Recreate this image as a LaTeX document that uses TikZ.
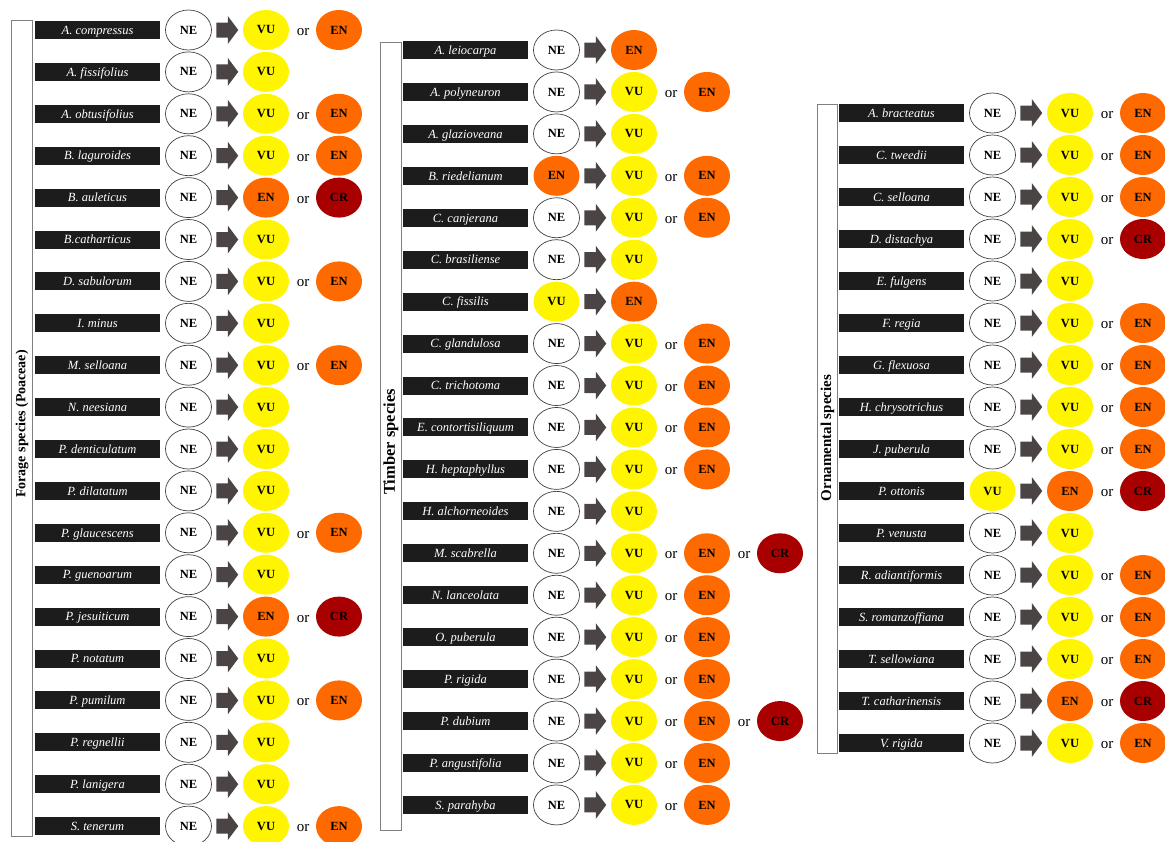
\documentclass[tikz,border=0pt]{standalone}
\usepackage{fontspec}
\setmainfont{Liberation Serif}
\usetikzlibrary{shapes.geometric,calc}
\definecolor{labbg}{HTML}{1C1C1C}
\definecolor{vucol}{HTML}{FFF500}
\definecolor{encol}{HTML}{FF6A00}
\definecolor{crcol}{HTML}{A80000}
\definecolor{arrcol}{HTML}{4A4444}
\definecolor{boxcol}{HTML}{808080}
\def\tsNE{NE}\def\tsVU{VU}\def\tsEN{EN}\def\tsCR{CR}
\tikzset{
  lab/.style={fill=labbg,text=white,font=\itshape\fontsize{12.5}{12.5}\selectfont,
    minimum width=125pt,minimum height=18pt,inner sep=0pt,
    text height=8.5pt,text depth=0pt},
  stat/.style={ellipse,minimum width=46pt,minimum height=40pt,inner sep=0pt,
    font=\bfseries\fontsize{12.5}{12.5}\selectfont},
  sNE/.style={stat,draw=black!75,line width=0.7pt,fill=white},
  sVU/.style={stat,fill=vucol},
  sEN/.style={stat,fill=encol},
  sCR/.style={stat,fill=crcol},
  ortxt/.style={font=\fontsize{15}{15}\selectfont,inner sep=0pt,
    text height=7pt,text depth=0pt,yshift=-2pt},
  grpbox/.style={draw=boxcol,line width=0.9pt,fill=white,inner sep=0pt},
  grptxt/.style={rotate=90,font=\bfseries\selectfont,inner sep=0pt},
  barrow/.pic={\fill[arrcol] (-11,-7.5) -- (0.5,-7.5) -- (0.5,-14) -- (11,0)
     -- (0.5,14) -- (0.5,7.5) -- (-11,7.5) -- cycle;}
}
\newcommand\sprow[8]{%
  \node[lab] (#3-lab) at ({#1+62.5},{#2}) {#4};
  \node[#5] (#3-s0) at ({#1+153.5},{#2}) {\csname t#5\endcsname};
  \node[#6] (#3-s1) at ({#1+231},{#2}) {\csname t#6\endcsname};
  \pic at ($(#3-s0)!0.5!(#3-s1)$) {barrow};
  \if\relax\detokenize{#7}\relax\else
    \node[ortxt] (#3-or1) at ({#1+268},{#2}) {or};
    \node[#7] (#3-s2) at ({#1+304},{#2}) {\csname t#7\endcsname};
  \fi
  \if\relax\detokenize{#8}\relax\else
    \node[ortxt] (#3-or2) at ({#1+341},{#2}) {or};
    \node[#8] (#3-s3) at ({#1+377},{#2}) {\csname t#8\endcsname};
  \fi
}
\begin{document}
\begin{tikzpicture}[x=1pt,y=-1pt]
\useasboundingbox (0,0) rectangle (1165,841);
% group boxes
\node[grpbox,minimum width=21pt,minimum height=816pt] (g1) at (21.5,428) {};
\node[grptxt,font=\bfseries\fontsize{14}{14}\selectfont] (g1t) at (22,424) {Forage species (Poaceae)};
\node[grpbox,minimum width=21pt,minimum height=788pt] (g2) at (390.5,436) {};
\node[grptxt,font=\bfseries\fontsize{16.5}{16.5}\selectfont] (g2t) at (391,442) {Timber species};
\node[grpbox,minimum width=20pt,minimum height=649pt] (g3) at (827,428.5) {};
\node[grptxt,font=\bfseries\fontsize{15}{15}\selectfont] (g3t) at (827.5,438) {Ornamental species};
% Forage
\sprow{35}{30+41.9*0}{f1}{A. compressus}{sNE}{sVU}{sEN}{}
\sprow{35}{30+41.9*1}{f2}{A. fissifolius}{sNE}{sVU}{}{}
\sprow{35}{30+41.9*2}{f3}{A. obtusifolius}{sNE}{sVU}{sEN}{}
\sprow{35}{30+41.9*3}{f4}{B. laguroides}{sNE}{sVU}{sEN}{}
\sprow{35}{30+41.9*4}{f5}{B. auleticus}{sNE}{sEN}{sCR}{}
\sprow{35}{30+41.9*5}{f6}{B.catharticus}{sNE}{sVU}{}{}
\sprow{35}{30+41.9*6}{f7}{D. sabulorum}{sNE}{sVU}{sEN}{}
\sprow{35}{30+41.9*7}{f8}{I. minus}{sNE}{sVU}{}{}
\sprow{35}{30+41.9*8}{f9}{M. selloana}{sNE}{sVU}{sEN}{}
\sprow{35}{30+41.9*9}{f10}{N. neesiana}{sNE}{sVU}{}{}
\sprow{35}{30+41.9*10}{f11}{P. denticulatum}{sNE}{sVU}{}{}
\sprow{35}{30+41.9*11}{f12}{P. dilatatum}{sNE}{sVU}{}{}
\sprow{35}{30+41.9*12}{f13}{P. glaucescens}{sNE}{sVU}{sEN}{}
\sprow{35}{30+41.9*13}{f14}{P. guenoarum}{sNE}{sVU}{}{}
\sprow{35}{30+41.9*14}{f15}{P. jesuiticum}{sNE}{sEN}{sCR}{}
\sprow{35}{30+41.9*15}{f16}{P. notatum}{sNE}{sVU}{}{}
\sprow{35}{30+41.9*16}{f17}{P. pumilum}{sNE}{sVU}{sEN}{}
\sprow{35}{30+41.9*17}{f18}{P. regnellii}{sNE}{sVU}{}{}
\sprow{35}{30+41.9*18}{f19}{P. lanigera}{sNE}{sVU}{}{}
\sprow{35}{30+41.9*19}{f20}{S. tenerum}{sNE}{sVU}{sEN}{}
% Timber
\sprow{403}{50+41.94*0}{t1}{A. leiocarpa}{sNE}{sEN}{}{}
\sprow{403}{50+41.94*1}{t2}{A. polyneuron}{sNE}{sVU}{sEN}{}
\sprow{403}{50+41.94*2}{t3}{A. glazioveana}{sNE}{sVU}{}{}
\sprow{403}{50+41.94*3}{t4}{B. riedelianum}{sEN}{sVU}{sEN}{}
\sprow{403}{50+41.94*4}{t5}{C. canjerana}{sNE}{sVU}{sEN}{}
\sprow{403}{50+41.94*5}{t6}{C. brasiliense}{sNE}{sVU}{}{}
\sprow{403}{50+41.94*6}{t7}{C. fissilis}{sVU}{sEN}{}{}
\sprow{403}{50+41.94*7}{t8}{C. glandulosa}{sNE}{sVU}{sEN}{}
\sprow{403}{50+41.94*8}{t9}{C. trichotoma}{sNE}{sVU}{sEN}{}
\sprow{403}{50+41.94*9}{t10}{E. contortisiliquum}{sNE}{sVU}{sEN}{}
\sprow{403}{50+41.94*10}{t11}{H. heptaphyllus}{sNE}{sVU}{sEN}{}
\sprow{403}{50+41.94*11}{t12}{H. alchorneoides}{sNE}{sVU}{}{}
\sprow{403}{50+41.94*12}{t13}{M. scabrella}{sNE}{sVU}{sEN}{sCR}
\sprow{403}{50+41.94*13}{t14}{N. lanceolata}{sNE}{sVU}{sEN}{}
\sprow{403}{50+41.94*14}{t15}{O. puberula}{sNE}{sVU}{sEN}{}
\sprow{403}{50+41.94*15}{t16}{P. rigida}{sNE}{sVU}{sEN}{}
\sprow{403}{50+41.94*16}{t17}{P. dubium}{sNE}{sVU}{sEN}{sCR}
\sprow{403}{50+41.94*17}{t18}{P. angustifolia}{sNE}{sVU}{sEN}{}
\sprow{403}{50+41.94*18}{t19}{S. parahyba}{sNE}{sVU}{sEN}{}
% Ornamental
\sprow{839}{113+42*0}{o1}{A. bracteatus}{sNE}{sVU}{sEN}{}
\sprow{839}{113+42*1}{o2}{C. tweedii}{sNE}{sVU}{sEN}{}
\sprow{839}{113+42*2}{o3}{C. selloana}{sNE}{sVU}{sEN}{}
\sprow{839}{113+42*3}{o4}{D. distachya}{sNE}{sVU}{sCR}{}
\sprow{839}{113+42*4}{o5}{E. fulgens}{sNE}{sVU}{}{}
\sprow{839}{113+42*5}{o6}{F. regia}{sNE}{sVU}{sEN}{}
\sprow{839}{113+42*6}{o7}{G. flexuosa}{sNE}{sVU}{sEN}{}
\sprow{839}{113+42*7}{o8}{H. chrysotrichus}{sNE}{sVU}{sEN}{}
\sprow{839}{113+42*8}{o9}{J. puberula}{sNE}{sVU}{sEN}{}
\sprow{839}{113+42*9}{o10}{P. ottonis}{sVU}{sEN}{sCR}{}
\sprow{839}{113+42*10}{o11}{P. venusta}{sNE}{sVU}{}{}
\sprow{839}{113+42*11}{o12}{R. adiantiformis}{sNE}{sVU}{sEN}{}
\sprow{839}{113+42*12}{o13}{S. romanzoffiana}{sNE}{sVU}{sEN}{}
\sprow{839}{113+42*13}{o14}{T. sellowiana}{sNE}{sVU}{sEN}{}
\sprow{839}{113+42*14}{o15}{T. catharinensis}{sNE}{sEN}{sCR}{}
\sprow{839}{113+42*15}{o16}{V. rigida}{sNE}{sVU}{sEN}{}
\end{tikzpicture}
\end{document}
